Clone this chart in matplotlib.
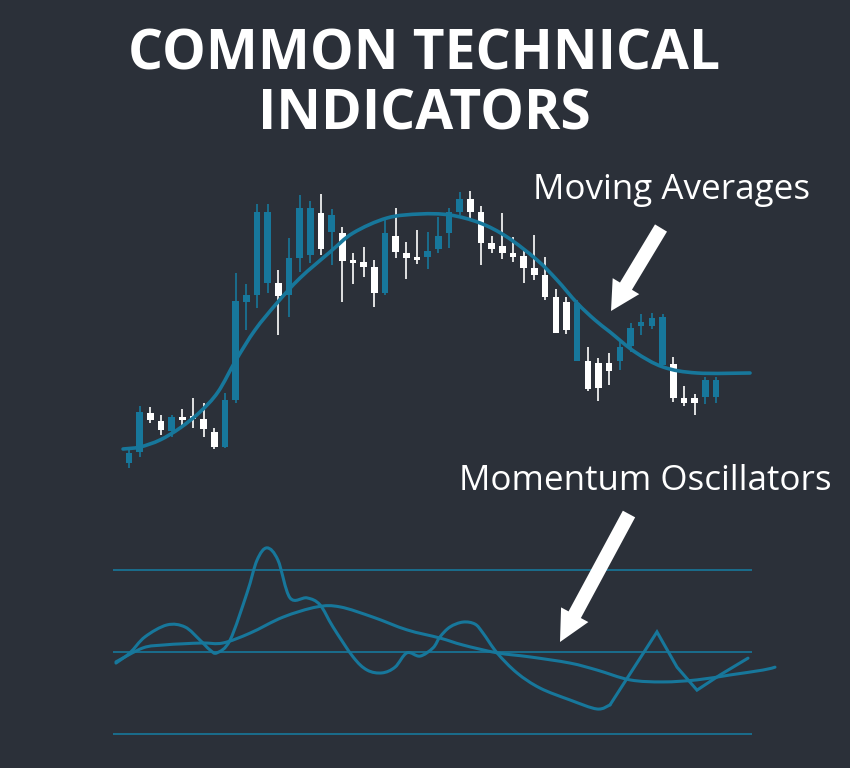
import numpy as np
import matplotlib
matplotlib.use("Agg")
import matplotlib.pyplot as plt
from matplotlib.patches import FancyArrow, PathPatch
from matplotlib.path import Path

BG = "#2b3039"
TEAL = "#17779b"

# candles: open, high, low, close
opens = [24.25, 27.0, 36.75, 34.75, 32.25, 35.75, 36.0, 35.25, 32.0, 28.25,
         40.0, 64.5, 66.25, 69.25, 69.25, 66.25, 75.5, 76.25, 86.75, 82.0,
         81.75, 75.0, 74.5, 73.25, 66.75, 81.0, 76.75, 75.75, 75.75, 77.75,
         81.75, 87.0, 90.25, 87.0, 79.25, 78.5, 76.75, 76.0, 73.0, 71.25,
         65.75, 64.5, 49.75, 49.75, 49.25, 49.25, 49.75, 53.5, 58.5, 58.5,
         48.75, 49.0, 40.5, 40.5, 40.75, 40.75]
closes = [26.75, 37.0, 35.0, 32.5, 35.75, 35.0, 35.25, 32.75, 28.25, 40.0,
          64.75, 66.25, 87.0, 87.0, 66.0, 75.5, 88.0, 88.0, 77.75, 86.25,
          74.75, 74.25, 73.25, 66.75, 81.75, 77.0, 75.5, 75.0, 77.25, 81.0,
          87.0, 90.25, 87.0, 79.25, 77.75, 76.75, 75.75, 73.0, 71.25, 65.75,
          56.75, 57.5, 64.25, 42.75, 43.0, 47.25, 53.25, 58.0, 59.5, 60.5,
          60.75, 40.5, 39.25, 39.25, 45.0, 45.0]
highs = [28.0, 38.5, 38.25, 36.25, 36.25, 37.75, 40.5, 39.25, 33.0, 41.75,
         71.75, 69.0, 89.0, 89.0, 72.5, 80.5, 91.25, 89.75, 91.5, 87.75,
         83.25, 76.75, 78.25, 75.0, 85.75, 88.0, 79.5, 82.5, 82.0, 85.75,
         88.0, 92.0, 92.25, 88.5, 81.0, 86.75, 80.75, 77.5, 81.25, 75.75,
         67.75, 65.75, 65.0, 53.25, 50.5, 51.75, 55.0, 59.25, 61.5, 61.75,
         61.5, 50.75, 43.5, 41.5, 45.75, 45.75]
lows = [23.0, 25.75, 34.25, 31.25, 30.75, 33.0, 33.0, 30.75, 27.75, 28.0,
        39.25, 57.5, 63.0, 66.75, 56.25, 60.75, 72.0, 74.25, 76.25, 73.75,
        64.5, 69.0, 70.75, 63.25, 66.25, 75.5, 70.25, 74.0, 72.75, 76.75,
        78.0, 86.25, 85.25, 73.75, 76.75, 75.25, 74.5, 69.25, 70.0, 65.0,
        56.75, 56.5, 49.75, 42.25, 39.75, 43.75, 47.5, 52.0, 56.25, 57.75,
        48.75, 39.5, 38.5, 36.25, 39.0, 39.25]

# moving average (bar index, price)
ma_x = [-0.56, 1.03, 2.9, 4.78, 6.65, 8.34, 10.03, 11.81, 13.87, 16.03,
        18.84, 21.0, 24.18, 27.27, 30.08, 32.9, 35.43, 38.24, 40.11, 41.99,
        43.67, 45.08, 47.42, 50.05, 53.23, 58.2]
ma_y = [27.75, 28.25, 30.0, 33.0, 37.0, 42.0, 50.0, 57.5, 64.25, 70.5,
        77.0, 81.75, 85.5, 86.5, 86.25, 84.25, 80.75, 75.0, 70.0, 64.25,
        60.0, 57.0, 52.0, 48.25, 46.75, 46.75]

# oscillators (bar index, value), bands at 30 / 50 / 70
levels = [70, 50, 30]
fast_x = [-1.22, 0.09, 1.5, 3.56, 5.25, 6.65, 7.59, 8.25, 9.47, 11.06,
          12.0, 12.93, 13.96, 15.09, 16.68, 17.9, 19.12, 21.0, 22.31, 23.71,
          24.93, 26.05, 27.27, 28.49, 29.15, 30.08, 31.3, 32.43, 33.18, 34.49,
          36.36, 38.52, 41.33, 43.86, 45.08]
fast_y = [47.3, 49.8, 53.7, 56.6, 56.1, 52.9, 50.5, 49.8, 52.9, 64.4,
          72.4, 75.4, 72.4, 63.2, 63.2, 61.5, 56.1, 48.8, 45.6, 44.9,
          46.3, 49.8, 49.0, 51.0, 53.7, 56.1, 57.3, 56.8, 54.6, 49.8,
          44.9, 41.2, 38.3, 36.1, 37.1]
# straight zig-zag tail of the fast line
zig_x = [45.08, 49.48, 51.36, 53.23, 55.39, 58.01]
zig_y = [37.1, 54.9, 46.3, 40.7, 44.4, 48.5]
slow_x = [-1.22, 1.31, 3.19, 5.06, 6.94, 8.81, 11.34, 14.43, 17.62, 19.78,
          22.87, 26.05, 29.15, 31.3, 34.49, 37.58, 41.33, 43.86, 46.95, 50.05,
          53.23, 56.33, 59.42, 60.54]
slow_y = [47.6, 51.0, 51.7, 52.0, 52.2, 52.2, 54.6, 58.5, 61.0, 61.0,
          58.5, 55.4, 53.4, 51.7, 49.8, 48.8, 47.3, 45.6, 43.2, 42.7,
          43.2, 44.4, 45.6, 46.3]


def smooth_path(xs, ys):
    # catmull-rom through the points, drawn as cubic bezier segments
    p = np.column_stack([xs, ys])
    p = np.vstack([p[0], p, p[-1]])
    verts = [p[1]]
    codes = [Path.MOVETO]
    for i in range(1, len(p) - 2):
        c1 = p[i] + (p[i + 1] - p[i - 1]) / 6
        c2 = p[i + 1] - (p[i + 2] - p[i]) / 6
        verts += [c1, c2, p[i + 1]]
        codes += [Path.CURVE4] * 3
    return Path(verts, codes)


def draw_smooth(ax, xs, ys, lw, z=2):
    ax.add_patch(PathPatch(smooth_path(xs, ys), facecolor="none",
                           edgecolor=TEAL, linewidth=lw, capstyle="round",
                           joinstyle="round", zorder=z))


fig = plt.figure(figsize=(8.5, 7.68), dpi=100, facecolor=BG)

# price panel
ax = fig.add_axes([0, 0, 1, 1])
ax.set_facecolor("none")
ax.set_xlim(-12.09, 67.57)
ax.set_ylim(-52, 140)
ax.axis("off")

idx = np.arange(len(opens))
o = np.array(opens)
c = np.array(closes)
cols = [TEAL if cc > oo else "white" for oo, cc in zip(o, c)]
ax.vlines(idx, lows, highs, colors=cols, linewidth=1.2, zorder=2)
ax.bar(idx, np.abs(c - o), bottom=np.minimum(o, c), width=0.62,
       color=cols, linewidth=0, zorder=3)
draw_smooth(ax, ma_x, ma_y, 2.6, z=4)

# oscillator panel
ax2 = fig.add_axes([0, 0, 1, 1])
ax2.set_facecolor("none")
ax2.set_xlim(-12.09, 67.57)
ax2.set_ylim(50 - (768 - 652) / 4.1, 50 + 652 / 4.1)
ax2.axis("off")
ax2.hlines(levels, -1.5, 58.4, colors=TEAL, linewidth=1.2)
draw_smooth(ax2, fast_x, fast_y, 2.2)
ax2.plot(zig_x, zig_y, color=TEAL, linewidth=2.2, solid_joinstyle="miter",
         solid_capstyle="round")
draw_smooth(ax2, slow_x, slow_y, 2.2)

# annotations in pixel space
ann = fig.add_axes([0, 0, 1, 1])
ann.set_facecolor("none")
ann.set_xlim(0, 850)
ann.set_ylim(768, 0)
ann.axis("off")

ann.text(424, 70, "COMMON TECHNICAL", color="white", fontsize=39.6,
         fontweight="bold", family="Open Sans", ha="center", va="baseline")
ann.text(424, 130, "INDICATORS", color="white", fontsize=39.6,
         fontweight="bold", family="Open Sans", ha="center", va="baseline")
ann.text(672, 199, "Moving Averages", color="white", fontsize=25.2,
         family="Open Sans", ha="center", va="baseline")
ann.text(645, 490, "Momentum Oscillators", color="white", fontsize=25.2,
         family="Open Sans", ha="center", va="baseline")

ann.add_patch(FancyArrow(661, 228, -50, 83, width=14, head_width=31,
                         head_length=29, length_includes_head=True,
                         color="white", linewidth=0))
ann.add_patch(FancyArrow(629, 514, -69, 128, width=14, head_width=31,
                         head_length=31, length_includes_head=True,
                         color="white", linewidth=0))

fig.savefig("out.png", dpi=100, facecolor=BG)
